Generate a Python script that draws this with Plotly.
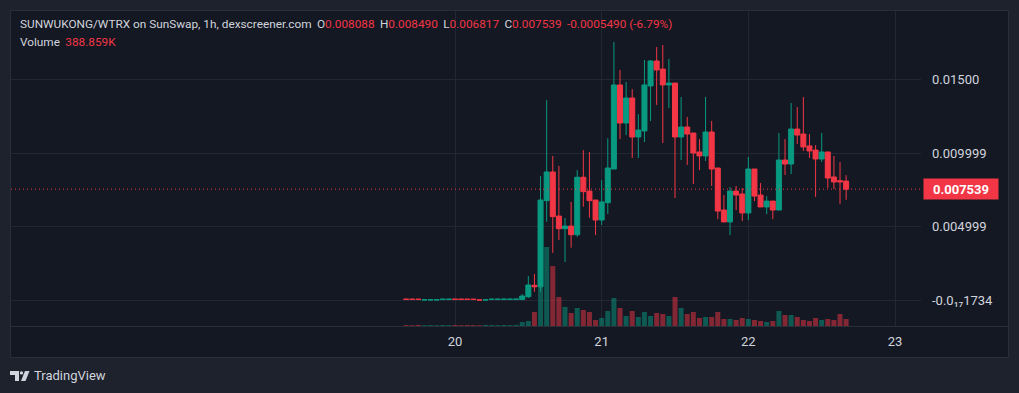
import pandas as pd
import plotly.graph_objects as go

# ---------------- data ----------------
hours = list(range(-8, 65))  # hours relative to day 20 00:00
open_ = [0.000052, 0.000050, 0.000049, 0.000008, 0.000010, 0.000011, 0.000046, 0.000047,
         0.000052, 0.000051, 0.000050, 0.000049, 0.000005, 0.000008, 0.000046, 0.000047,
         0.000048, 0.000049, 0.000050,
         0.000030, 0.000224, 0.00100, 0.00090, 0.00676, 0.00871, 0.00571, 0.00485, 0.00503,
         0.00444, 0.00835, 0.00741, 0.00680, 0.00544, 0.00662, 0.00891, 0.01463, 0.01204,
         0.01374, 0.01109, 0.01150, 0.01456, 0.01626, 0.01571, 0.01463, 0.01476, 0.01109,
         0.01177, 0.01136, 0.01007, 0.00980, 0.01143, 0.00898, 0.00612, 0.00531, 0.00741,
         0.00721, 0.00592, 0.00891, 0.00714, 0.00633, 0.00673, 0.00612, 0.00952, 0.00925,
         0.01163, 0.01129, 0.01048, 0.01020, 0.00959, 0.01007, 0.00837, 0.00812, 0.008088]
high = [0.000053, 0.000051, 0.000050, 0.000013, 0.000014, 0.000015, 0.000051, 0.000052,
        0.000053, 0.000052, 0.000051, 0.000050, 0.000006, 0.000013, 0.000051, 0.000052,
        0.000053, 0.000054, 0.000055,
        0.00041, 0.00163, 0.00177, 0.00844, 0.01360, 0.00980, 0.00912, 0.00558, 0.00667,
        0.00884, 0.01020, 0.01007, 0.00680, 0.00816, 0.01100, 0.01755, 0.01565, 0.01483,
        0.01435, 0.01265, 0.01633, 0.01633, 0.01721, 0.01735, 0.01640, 0.01476, 0.01381,
        0.01245, 0.01136, 0.01095, 0.01381, 0.01218, 0.00898, 0.00714, 0.00769, 0.00776,
        0.00762, 0.00973, 0.00891, 0.00796, 0.00707, 0.00673, 0.01136, 0.01095, 0.01340,
        0.01313, 0.01381, 0.01129, 0.01054, 0.01136, 0.01007, 0.00980, 0.00939, 0.008490]
low = [0.000047, 0.000045, 0.000044, 0.000007, 0.000009, 0.000010, 0.000045, 0.000046,
       0.000047, 0.000046, 0.000045, 0.000044, 0.000001, 0.000007, 0.000045, 0.000046,
       0.000047, 0.000048, 0.000049,
       0.000020, 0.00014, 0.00056, 0.00056, 0.00533, 0.00320, 0.00408, 0.00259, 0.00356,
       0.00430, 0.00635, 0.00560, 0.00442, 0.00510, 0.00585, 0.00891, 0.01095, 0.01122,
       0.00966, 0.00966, 0.01075, 0.01218, 0.01327, 0.01068, 0.01306, 0.00694, 0.00952,
       0.00918, 0.00789, 0.00884, 0.00946, 0.00776, 0.00551, 0.00531, 0.00442, 0.00612,
       0.00537, 0.00544, 0.00673, 0.00633, 0.00585, 0.00551, 0.00612, 0.00850, 0.00857,
       0.01061, 0.01014, 0.00966, 0.00701, 0.00939, 0.00762, 0.00755, 0.00653, 0.006817]
close = [0.000048, 0.000046, 0.000045, 0.000012, 0.000013, 0.000014, 0.000050, 0.000051,
         0.000048, 0.000047, 0.000046, 0.000045, 0.000001, 0.000012, 0.000050, 0.000051,
         0.000052, 0.000053, 0.000054,
         0.00027, 0.00102, 0.00090, 0.00680, 0.00871, 0.00567, 0.00485, 0.00503, 0.00444,
         0.00835, 0.00737, 0.00676, 0.00544, 0.00667, 0.00898, 0.01463, 0.01204, 0.01374,
         0.01109, 0.01156, 0.01463, 0.01626, 0.01565, 0.01463, 0.01476, 0.01109, 0.01177,
         0.01129, 0.01000, 0.00980, 0.01143, 0.00891, 0.00605, 0.00531, 0.00741, 0.00714,
         0.00592, 0.00891, 0.00707, 0.00633, 0.00673, 0.00612, 0.00952, 0.00925, 0.01163,
         0.01122, 0.01041, 0.01014, 0.00959, 0.01007, 0.00830, 0.00803, 0.00803, 0.007539]
volume = [52e3, 48e3, 61e3, 45e3, 50e3, 43e3, 57e3, 49e3, 55e3, 47e3, 58e3, 51e3, 44e3,
          60e3, 53e3, 46e3, 56e3, 50e3, 62e3,
          222e3, 278e3, 778e3, 4.72e6, 4.39e6, 3.33e6, 1.61e6, 1.06e6, 722e3, 1.0e6, 889e3,
          778e3, 333e3, 444e3, 833e3, 1.56e6, 1.0e6, 556e3, 833e3, 500e3, 778e3, 556e3,
          722e3, 667e3, 556e3, 1.61e6, 1.0e6, 667e3, 778e3, 444e3, 500e3, 500e3, 778e3,
          389e3, 389e3, 333e3, 444e3, 389e3, 333e3, 278e3, 222e3, 278e3, 833e3, 611e3,
          611e3, 500e3, 333e3, 278e3, 444e3, 333e3, 389e3, 333e3, 667e3, 388859]

day_ticks = ["2024-05-20", "2024-05-21", "2024-05-22", "2024-05-23"]
day_labels = ["20", "21", "22", "23"]
price_ticks = [0.0150, 0.009999, 0.004999, -1.734e-18]
price_labels = ["0.01500", "0.009999", "0.004999", "-0.0\u2081\u20871734"]

title_text = "SUNWUKONG/WTRX on SunSwap, 1h, dexscreener.com"
change_text = "-0.0005490 (-6.79%)"
volume_text = "388.859K"

# ---------------- style ----------------
GREEN = "#089981"
RED = "#f23645"
GREEN_V = "rgba(8,153,129,0.5)"
RED_V = "rgba(242,54,69,0.5)"
OUTER = "#1e222d"
PANE = "#141823"
GRID = "#232733"
BORDER = "#2a2e39"
TXT = "#d1d4dc"
FONT = "Roboto"

W, H = 1019, 393
L, R, T, B = 11, 98, 11, 67
PW, PH = W - L - R, H - T - B


def pxx(x):
    return (x - L) / PW


def pxy(y):
    return (H - B - y) / PH


t0 = pd.Timestamp("2024-05-20")
times = [t0 + pd.Timedelta(hours=h) for h in hours]
x_range = [t0 - pd.Timedelta(hours=72.65), t0 + pd.Timedelta(hours=76.25)]
bar_w = 0.818 * 3600 * 1000

vol_colors = [GREEN_V if c >= o else RED_V for o, c in zip(open_, close)]

fig = go.Figure()
fig.add_trace(go.Bar(x=times, y=volume, width=bar_w, marker=dict(color=vol_colors, line_width=0),
                     yaxis="y", hoverinfo="skip", showlegend=False))
fig.add_trace(go.Candlestick(x=times, open=open_, high=high, low=low, close=close,
                             increasing=dict(line=dict(color=GREEN, width=1), fillcolor=GREEN),
                             decreasing=dict(line=dict(color=RED, width=1), fillcolor=RED),
                             whiskerwidth=0, yaxis="y2", hoverinfo="skip", showlegend=False))

last = close[-1]

fig.update_layout(
    width=W, height=H,
    margin=dict(l=L, r=R, t=T, b=B, pad=0),
    paper_bgcolor=OUTER, plot_bgcolor=PANE,
    boxgap=0.18, boxgroupgap=0,
    font=dict(family=FONT, color=TXT, size=12),
    xaxis=dict(type="date", range=x_range, tickvals=day_ticks, ticktext=day_labels,
               showgrid=True, gridcolor=GRID, gridwidth=1, zeroline=False, showline=False,
               rangeslider=dict(visible=False), ticks="", ticklabelstandoff=6,
               tickfont=dict(size=13, color=TXT, family=FONT)),
    yaxis=dict(range=[0, 315 * 55.55e3], visible=False, showgrid=False, fixedrange=True),
    yaxis2=dict(overlaying="y", side="right", range=[-0.001769, 0.019661],
                tickvals=price_ticks, ticktext=price_labels, showgrid=True, gridcolor=GRID,
                zeroline=False, showline=False, ticks="", ticklabelstandoff=10,
                tickfont=dict(size=13, color=TXT, family=FONT)),
    showlegend=False,
)

shapes = [
    dict(type="rect", xref="paper", yref="paper", x0=pxx(10.5), x1=pxx(1008.5), y0=pxy(357.5), y1=pxy(10.5),
         line=dict(color=BORDER, width=1), fillcolor=PANE, layer="below"),
    dict(type="line", xref="paper", yref="paper", x0=pxx(10.5), x1=pxx(1008.5), y0=pxy(326.5), y1=pxy(326.5),
         line=dict(color=BORDER, width=1), layer="above"),
    dict(type="line", xref="paper", yref="y2", x0=0, x1=1, y0=last, y1=last,
         line=dict(color=RED, width=1, dash="1px,3px"), layer="above"),
]
# TradingView logo
shapes += [
    dict(type="path", xref="paper", yref="paper",
         path=f"M {pxx(10)},{pxy(371)} L {pxx(19)},{pxy(371)} L {pxx(19)},{pxy(381)} L {pxx(15)},{pxy(381)} "
              f"L {pxx(15)},{pxy(375)} L {pxx(10)},{pxy(375)} Z",
         fillcolor=TXT, line=dict(width=0)),
    dict(type="circle", xref="paper", yref="paper", x0=pxx(19.8), x1=pxx(23.2), y0=pxy(374.6), y1=pxy(371.2),
         fillcolor=TXT, line=dict(width=0)),
    dict(type="path", xref="paper", yref="paper",
         path=f"M {pxx(25)},{pxy(371)} L {pxx(29.5)},{pxy(371)} L {pxx(25.5)},{pxy(381)} L {pxx(21)},{pxy(381)} Z",
         fillcolor=TXT, line=dict(width=0)),
]
fig.update_layout(shapes=shapes)

sp = "\u00a0\u2009"
r = lambda s: f"<span style='color:{RED}'>{s}</span>"
line1 = (f"{title_text}{sp}O{r(f'{open_[-1]:.6f}')}{sp}H{r(f'{high[-1]:.6f}')}{sp}"
         f"L{r(f'{low[-1]:.6f}')}{sp}C{r(f'{close[-1]:.6f}')}{sp}{r(change_text)}")
line2 = f"Volume{sp}{r(volume_text)}"

annotations = [
    dict(xref="paper", yref="paper", x=pxx(18), y=pxy(24), text=line1, showarrow=False,
         xanchor="left", yanchor="middle", font=dict(size=11.8, color=TXT, family=FONT)),
    dict(xref="paper", yref="paper", x=pxx(18), y=pxy(42), text=line2, showarrow=False,
         xanchor="left", yanchor="middle", font=dict(size=11.8, color=TXT, family=FONT)),
    dict(xref="paper", yref="y2", x=pxx(923), y=last, text=f"<b>{last:.6f}</b>", showarrow=False,
         xanchor="left", yanchor="middle", bgcolor=RED, width=72, height=18, align="center",
         font=dict(size=13, color="#ffffff", family=FONT)),
    dict(xref="paper", yref="paper", x=pxx(32), y=pxy(376), text="TradingView", showarrow=False,
         xanchor="left", yanchor="middle", font=dict(size=13, color=TXT, family=FONT)),
]
fig.update_layout(annotations=annotations)

fig.write_html("out.html")
